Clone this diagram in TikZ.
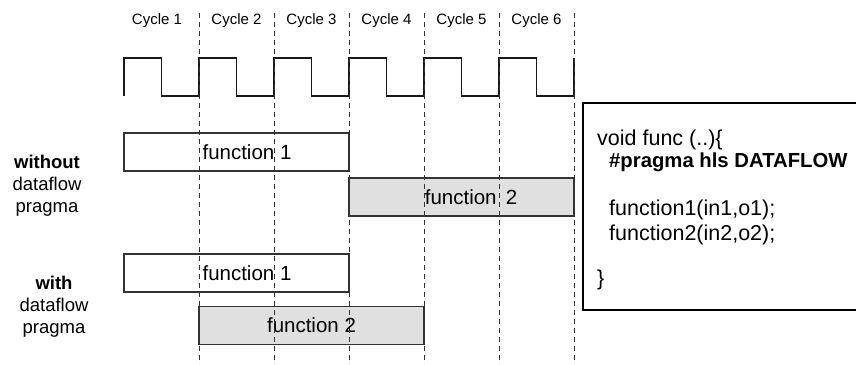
\documentclass[tikz,border=0pt]{standalone}
\usepackage{fontspec}
\setmainfont{Liberation Sans}
\begin{document}
\begin{tikzpicture}[x=1pt,y=-1pt,
  cyclelbl/.style={inner sep=0pt, font=\fontsize{15}{18}\selectfont},
  grid/.style={draw=black!80, line width=0.9pt, dash pattern=on 5pt off 4pt},
  clock/.style={draw=black!90, line width=1.1pt},
  fbox/.style={draw=black!80, line width=1.1pt, fill=white, minimum height=38pt, inner sep=0pt},
  fboxgray/.style={fbox, fill=black!12},
  ftext/.style={inner sep=0pt, font=\fontsize{20.5}{24}\selectfont},
  sidelbl/.style={inner sep=0pt, align=center, font=\fontsize{18.5}{21.8}\selectfont},
  codebox/.style={draw=black, line width=2pt, minimum width=276pt, minimum height=207pt, inner sep=0pt},
  codeline/.style={anchor=base west, inner sep=0pt, font=\fontsize{21.5}{25}\selectfont}]
\useasboundingbox (0,0) rectangle (856,364);

% cycle labels
\node[cyclelbl] (c1) at (157,21) {Cycle 1};
\foreach \i in {2,...,6}
  \node[cyclelbl] (c\i) at ({161.5+75*(\i-1)},21) {Cycle \i};

% clock waveform
\coordinate (clk0) at (124,96);
\draw[clock] (clk0)
  \foreach \k in {0,...,5} {
    -- ++(0,-38) -- ++(37.5,0) -- ++(0,38) -- ++(37.5,0)
  } -- ++(0,-38);

% schedule without dataflow
\node[fbox, minimum width=225pt] (wo1) at (236.5,152) {};
\node[ftext] (wo1t) at (247,152) {function 1};
\node[fboxgray, minimum width=225pt] (wo2) at (461.5,197) {};
\node[ftext] (wo2t) at (471,197) {function\hspace{3.5pt} 2};

% schedule with dataflow
\node[fbox, minimum width=225pt] (wi1) at (236.5,273) {};
\node[ftext] (wi1t) at (247,273) {function 1};
\node[fboxgray, minimum width=225pt] (wi2) at (311.5,325.5) {};
\node[ftext] (wi2t) at (311.5,325.5) {function 2};

% cycle boundaries, drawn over the schedule boxes
\foreach \i/\x in {1/199,2/274,3/349,4/424,5/499,6/574} {
  \coordinate (gt\i) at (\x,13);
  \coordinate (gb\i) at (\x,364);
}
\foreach \i in {1,...,6} \draw[grid] (gt\i) -- (gb\i);

% row labels
\node[sidelbl] (lwo) at (47,186) {\textbf{without}\\dataflow\\pragma};
\node[sidelbl] (lwi) at (54,306.5) {\textbf{with}\\dataflow\\pragma};

% source code
\node[codebox] (code) at (721,206.5) {};
\node[codeline] (l1) at (597,145) {void func (..)\{};
\node[codeline, font=\fontsize{20.3}{24}\selectfont] (l2) at (609,167) {\textbf{\#pragma hls DATAFLOW}};
\node[codeline] (l3) at (609,215) {function1(in1,o1);};
\node[codeline] (l4) at (609,240) {function2(in2,o2);};
\node[codeline] (l5) at (597,285) {\}};
\end{tikzpicture}
\end{document}
